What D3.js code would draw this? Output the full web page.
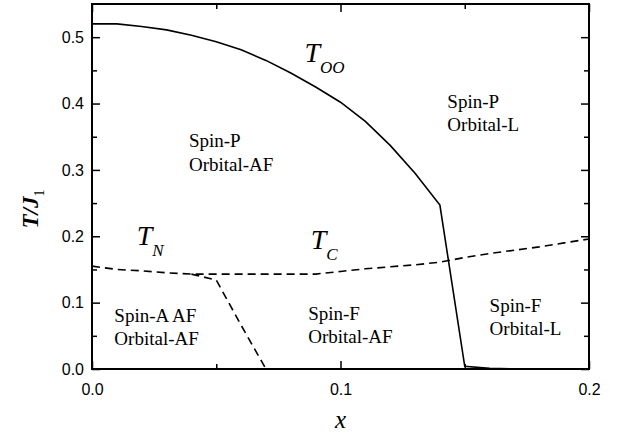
<!DOCTYPE html>
<html>
<head>
<meta charset="utf-8">
<script src="https://cdn.jsdelivr.net/npm/d3@7"></script>
<style>
  body { margin: 0; background: #fff; }
  svg { display: block; }
  .tick text { font-family: "Liberation Sans", Arial, sans-serif; font-size: 16px; fill: #000; }
  .tick line { stroke: #000; stroke-width: 1.5; }
</style>
</head>
<body>
<div id="chart"></div>
<script>
var WIDTH = 625, HEIGHT = 441;
var margin = { top: 4, right: 36, bottom: 72, left: 92 };
var SERIF = 'Liberation Serif';

// x values shared by all curves
var xs = [0, 0.01, 0.02, 0.03, 0.04, 0.05, 0.06, 0.07, 0.08, 0.09, 0.10,
          0.11, 0.12, 0.13, 0.14, 0.15, 0.16, 0.17, 0.18, 0.19, 0.20];
// orbital ordering temperature (solid)
var tOO = [0.520, 0.520, 0.516, 0.511, 0.503, 0.493, 0.481, 0.465, 0.446, 0.425, 0.402,
           0.373, 0.337, 0.295, 0.247, 0.004, 0.001, 0, 0, 0, 0];
// upper magnetic transition, T_N then T_C (dashed)
var tC = [0.155, 0.150, 0.148, 0.145, 0.143, 0.143, 0.143, 0.143, 0.143, 0.143, 0.147,
          0.151, 0.154, 0.157, 0.161, 0.168, 0.174, 0.179, 0.184, 0.190, 0.196];
// A-type AF boundary branching down (dashed)
var xN = [0.04, 0.05, 0.06, 0.07, 0.08, 0.09, 0.10, 0.11, 0.12, 0.13, 0.14, 0.15];
var tN = [0.143, 0.134, 0.066, 0, 0, 0, 0, 0, 0, 0, 0, 0];

var xTicks = [0, 0.1, 0.2];
var xMinor = [0.05, 0.15];
var yTicks = [0, 0.1, 0.2, 0.3, 0.4, 0.5];
var yMinor = [0.05, 0.15, 0.25, 0.35, 0.45];

// region labels: [x, T, line1, line2]
var regions = [
  [0.039, 0.334, 'Spin-P', 'Orbital-AF'],
  [0.143, 0.394, 'Spin-P', 'Orbital-L'],
  [0.009, 0.071, 'Spin-A AF', 'Orbital-AF'],
  [0.087, 0.074, 'Spin-F', 'Orbital-AF'],
  [0.160, 0.086, 'Spin-F', 'Orbital-L']
];
// curve names: [x, T, main, subscript]
var names = [
  [0.0855, 0.462, 'T', 'OO'],
  [0.018, 0.187, 'T', 'N'],
  [0.0880, 0.181, 'T', 'C']
];

var w = WIDTH - margin.left - margin.right;
var h = HEIGHT - margin.top - margin.bottom;

var svg = d3.select('#chart').append('svg')
  .attr('width', WIDTH)
  .attr('height', HEIGHT);
var g = svg.append('g').attr('transform', `translate(${margin.left},${margin.top})`);

var x = d3.scaleLinear().domain([0, 0.2]).range([0, w]);
var y = d3.scaleLinear().domain([0, 0.55]).range([h, 0]);

// axes, ticks pointing inward
function addAxis(axis, tr) {
  var a = g.append('g').attr('transform', tr).call(axis);
  a.select('.domain').remove();
  return a;
}
addAxis(d3.axisBottom(x).tickValues(xTicks).tickFormat(d3.format('.1f')).tickSize(-8).tickPadding(15), `translate(0,${h})`);
addAxis(d3.axisBottom(x).tickValues(xMinor).tickFormat('').tickSize(-5), `translate(0,${h})`);
addAxis(d3.axisTop(x).tickValues(xTicks).tickFormat('').tickSize(-8), 'translate(0,0)');
addAxis(d3.axisTop(x).tickValues(xMinor).tickFormat('').tickSize(-5), 'translate(0,0)');
addAxis(d3.axisLeft(y).tickValues(yTicks).tickFormat(d3.format('.1f')).tickSize(-8).tickPadding(8), 'translate(0,0)');
addAxis(d3.axisLeft(y).tickValues(yMinor).tickFormat('').tickSize(-5), 'translate(0,0)');
addAxis(d3.axisRight(y).tickValues(yTicks).tickFormat('').tickSize(-8), `translate(${w},0)`);
addAxis(d3.axisRight(y).tickValues(yMinor).tickFormat('').tickSize(-5), `translate(${w},0)`);

// curves
var line = d3.line().x(d => x(d[0])).y(d => y(d[1]));
g.append('path').datum(d3.zip(xs, tOO)).attr('d', line)
  .attr('fill', 'none').attr('stroke', '#000').attr('stroke-width', 1.6);
g.append('path').datum(d3.zip(xs, tC)).attr('d', line)
  .attr('fill', 'none').attr('stroke', '#000').attr('stroke-width', 1.6)
  .attr('stroke-dasharray', '8,5');
g.append('path').datum(d3.zip(xN, tN)).attr('d', line)
  .attr('fill', 'none').attr('stroke', '#000').attr('stroke-width', 1.6)
  .attr('stroke-dasharray', '8,5');

// frame
g.append('rect').attr('width', w).attr('height', h)
  .attr('fill', 'none').attr('stroke', '#000').attr('stroke-width', 2);

// region labels
regions.forEach(function (r) {
  var t = g.append('text')
    .attr('font-family', SERIF).attr('font-size', 19).attr('fill', '#000');
  t.append('tspan').attr('x', x(r[0])).attr('y', y(r[1])).text(r[2]);
  t.append('tspan').attr('x', x(r[0])).attr('dy', 23.5).text(r[3]);
});

// curve names with subscripts
names.forEach(function (n) {
  var t = g.append('text')
    .attr('font-family', SERIF).attr('font-style', 'italic').attr('fill', '#000')
    .attr('x', x(n[0])).attr('y', y(n[1]));
  t.append('tspan').attr('font-size', 28).text(n[2]);
  t.append('tspan').attr('font-size', 17).attr('dy', 11).text(n[3]);
});

// axis titles
svg.append('text')
  .attr('font-family', SERIF).attr('font-style', 'italic').attr('font-size', 25)
  .attr('x', margin.left + w / 2).attr('y', 428)
  .attr('text-anchor', 'middle')
  .text('x');

var yl = svg.append('text')
  .attr('font-family', SERIF).attr('font-style', 'italic').attr('font-weight', 'bold').attr('font-size', 23)
  .attr('transform', 'translate(38,209) rotate(-90)')
  .attr('text-anchor', 'middle');
yl.append('tspan').text('T/J');
yl.append('tspan').attr('dy', 6).attr('font-size', 14)
  .attr('font-style', 'normal').attr('font-weight', 'normal').text('1');
</script>
</body>
</html>
